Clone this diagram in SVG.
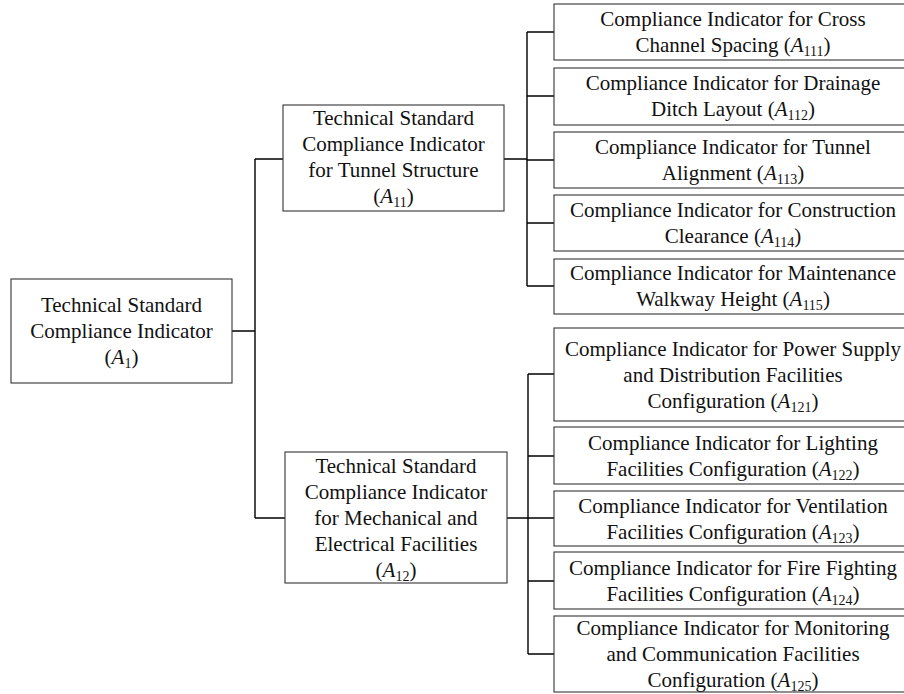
<svg xmlns="http://www.w3.org/2000/svg" width="904" height="694" viewBox="0 0 904 694">
<style>
.box{fill:#fff;stroke:#333;stroke-width:1.1}
.t{font-size:21px;fill:#111;text-anchor:middle}
.i{font-style:italic}
.s{font-size:14px}
.c{fill:none;stroke:#000;stroke-width:1.4}
</style>
<rect width="904" height="694" fill="#fff"/>
<g id="connectors">
<path class="c" d="M232 331H255M255 159V518M255 159H283M255 518H285"/>
<path class="c" d="M504 159H527M527 32V286M527 32H554M527 96H554M527 160H554M527 223H554M527 286H554"/>
<path class="c" d="M507 518H528M528 374V654M528 374H554M528 456H554M528 518H554M528 581H554M528 654H554"/>
</g>
<g font-family="'Liberation Serif', Tinos, 'Times New Roman', Times, 'DejaVu Serif', serif">
<g id="A1">
<rect class="box" x="11" y="279" width="221" height="104"/>
<text class="t" x="121.5" y="312">Technical Standard</text>
<text class="t" x="121.5" y="338">Compliance Indicator</text>
<text class="t" x="121.5" y="364">(<tspan class="i">A</tspan><tspan class="s" dy="4">1</tspan><tspan dy="-4">)</tspan></text>
</g>
<g id="A11">
<rect class="box" x="283" y="105" width="221" height="106"/>
<text class="t" x="393.5" y="125">Technical Standard</text>
<text class="t" x="393.5" y="151">Compliance Indicator</text>
<text class="t" x="393.5" y="177">for Tunnel Structure</text>
<text class="t" x="393.5" y="203">(<tspan class="i">A</tspan><tspan class="s" dy="4">11</tspan><tspan dy="-4">)</tspan></text>
</g>
<g id="A12">
<rect class="box" x="285" y="452" width="222" height="131"/>
<text class="t" x="396" y="473">Technical Standard</text>
<text class="t" x="396" y="499">Compliance Indicator</text>
<text class="t" x="396" y="525">for Mechanical and</text>
<text class="t" x="396" y="551">Electrical Facilities</text>
<text class="t" x="396" y="577">(<tspan class="i">A</tspan><tspan class="s" dy="4">12</tspan><tspan dy="-4">)</tspan></text>
</g>
<g id="A111">
<rect class="box" x="554" y="4" width="360" height="56"/>
<text class="t" x="733" y="26">Compliance Indicator for Cross</text>
<text class="t" x="733" y="52">Channel Spacing (<tspan class="i">A</tspan><tspan class="s" dy="4">111</tspan><tspan dy="-4">)</tspan></text>
</g>
<g id="A112">
<rect class="box" x="554" y="68" width="360" height="57"/>
<text class="t" x="733" y="90">Compliance Indicator for Drainage</text>
<text class="t" x="733" y="116">Ditch Layout (<tspan class="i">A</tspan><tspan class="s" dy="4">112</tspan><tspan dy="-4">)</tspan></text>
</g>
<g id="A113">
<rect class="box" x="554" y="132" width="360" height="56"/>
<text class="t" x="733" y="154">Compliance Indicator for Tunnel</text>
<text class="t" x="733" y="180">Alignment (<tspan class="i">A</tspan><tspan class="s" dy="4">113</tspan><tspan dy="-4">)</tspan></text>
</g>
<g id="A114">
<rect class="box" x="554" y="195" width="360" height="56"/>
<text class="t" x="733" y="217">Compliance Indicator for Construction</text>
<text class="t" x="733" y="243">Clearance (<tspan class="i">A</tspan><tspan class="s" dy="4">114</tspan><tspan dy="-4">)</tspan></text>
</g>
<g id="A115">
<rect class="box" x="554" y="259" width="360" height="55"/>
<text class="t" x="733" y="280">Compliance Indicator for Maintenance</text>
<text class="t" x="733" y="306">Walkway Height (<tspan class="i">A</tspan><tspan class="s" dy="4">115</tspan><tspan dy="-4">)</tspan></text>
</g>
<g id="A121">
<rect class="box" x="554" y="328" width="360" height="93"/>
<text class="t" x="733" y="355.5">Compliance Indicator for Power Supply</text>
<text class="t" x="733" y="381.5">and Distribution Facilities</text>
<text class="t" x="733" y="407.5">Configuration (<tspan class="i">A</tspan><tspan class="s" dy="4">121</tspan><tspan dy="-4">)</tspan></text>
</g>
<g id="A122">
<rect class="box" x="554" y="427" width="360" height="57"/>
<text class="t" x="733" y="449.5">Compliance Indicator for Lighting</text>
<text class="t" x="733" y="475.5">Facilities Configuration (<tspan class="i">A</tspan><tspan class="s" dy="4">122</tspan><tspan dy="-4">)</tspan></text>
</g>
<g id="A123">
<rect class="box" x="554" y="491" width="360" height="55"/>
<text class="t" x="733" y="512.5">Compliance Indicator for Ventilation</text>
<text class="t" x="733" y="538.5">Facilities Configuration (<tspan class="i">A</tspan><tspan class="s" dy="4">123</tspan><tspan dy="-4">)</tspan></text>
</g>
<g id="A124">
<rect class="box" x="554" y="552" width="360" height="57"/>
<text class="t" x="733" y="574.5">Compliance Indicator for Fire Fighting</text>
<text class="t" x="733" y="600.5">Facilities Configuration (<tspan class="i">A</tspan><tspan class="s" dy="4">124</tspan><tspan dy="-4">)</tspan></text>
</g>
<g id="A125">
<rect class="box" x="554" y="616" width="360" height="76"/>
<text class="t" x="733" y="635">Compliance Indicator for Monitoring</text>
<text class="t" x="733" y="661">and Communication Facilities</text>
<text class="t" x="733" y="687">Configuration (<tspan class="i">A</tspan><tspan class="s" dy="4">125</tspan><tspan dy="-4">)</tspan></text>
</g>
</g>
</svg>
